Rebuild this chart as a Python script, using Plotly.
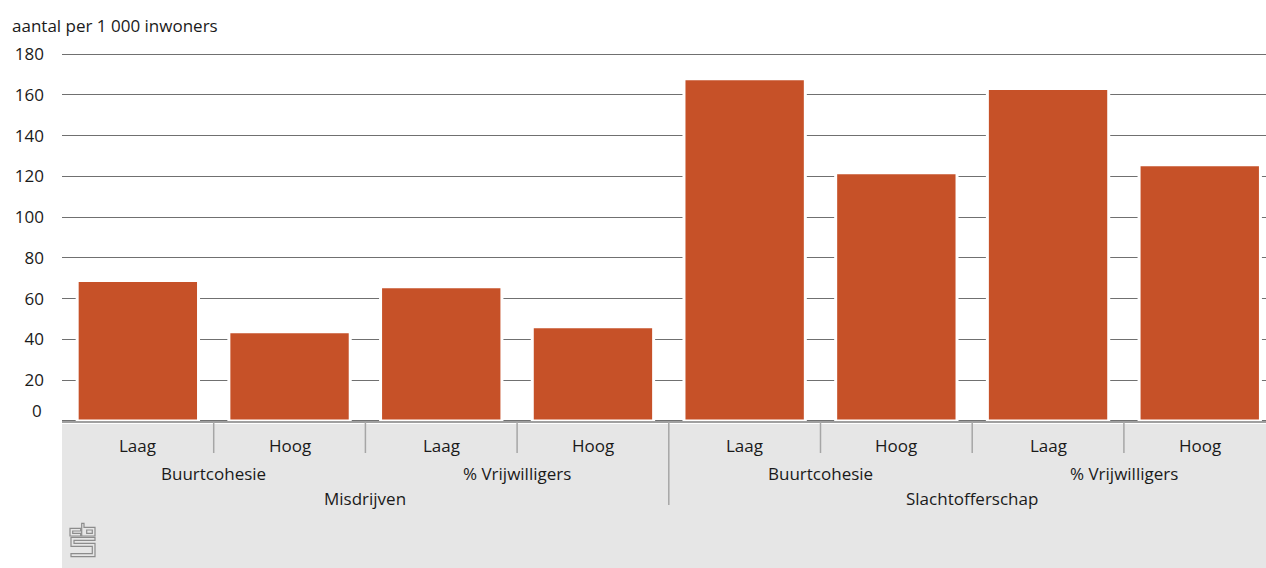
import plotly.graph_objects as go

# ---- data ----
outer_groups = ["Misdrijven", "Slachtofferschap"]
middle_groups = ["Buurtcohesie", "% Vrijwilligers"]
inner_labels = ["Laag", "Hoog"]
values = [68.9, 43.8, 65.8, 46.2, 167.9, 121.8, 163.1, 125.7]
y_ticks = [20, 40, 60, 80, 100, 120, 140, 160, 180]
unit_label = "aantal per 1 000 inwoners"

W, H = 1266, 568
ML, MR, MT, MB = 62, 0, 53, 147
PW, PH = W - ML - MR, H - MT - MB
YMAX = 180.5

def px(x):
    return (x - ML) / PW

def py(y):
    return (H - MB - y) / PH

n = len(outer_groups) * len(middle_groups) * len(inner_labels)

FONT = "Open Sans"
FS = 17
TXT = "#1a1a1a"
GREY_LINE = "#a6a6a6"

fig = go.Figure(go.Bar(
    x=list(range(n)), y=values,
    width=0.8,
    marker=dict(color="#c65128", line=dict(color="white", width=3)),
    hoverinfo="skip",
))

shapes = []
annotations = []

# grey background under the axis
shapes.append(dict(type="rect", xref="paper", yref="paper",
                   x0=0, x1=1, y0=py(424), y1=py(H + 2),
                   fillcolor="#e6e6e6", line=dict(width=0), layer="below"))

# dividers
for k in range(1, n):
    ybot = 505 if k == n // 2 else 453
    shapes.append(dict(type="line", xref="x", yref="paper",
                       x0=k - 0.5, x1=k - 0.5, y0=py(422), y1=py(ybot),
                       line=dict(color=GREY_LINE, width=1.5)))

# inner labels
for idx in range(n):
    annotations.append(dict(x=idx, y=py(445), xref="x", yref="paper",
                            text=inner_labels[idx % 2], showarrow=False,
                            font=dict(family=FONT, size=FS, color=TXT),
                            xanchor="center", yanchor="middle"))
# middle labels
for j in range(len(outer_groups) * len(middle_groups)):
    annotations.append(dict(x=2 * j + 0.5, y=py(473), xref="x", yref="paper",
                            text=middle_groups[j % 2], showarrow=False,
                            font=dict(family=FONT, size=FS, color=TXT),
                            xanchor="center", yanchor="middle"))
# outer labels
for j, o in enumerate(outer_groups):
    annotations.append(dict(x=4 * j + 1.5, y=py(498), xref="x", yref="paper",
                            text=o, showarrow=False,
                            font=dict(family=FONT, size=FS, color=TXT),
                            xanchor="center", yanchor="middle"))

# zero label
annotations.append(dict(x=px(44), y=py(410), xref="paper", yref="paper",
                        text="0", showarrow=False,
                        font=dict(family=FONT, size=FS, color=TXT),
                        xanchor="right", yanchor="middle"))
# unit label
annotations.append(dict(x=px(10), y=py(26), xref="paper", yref="paper",
                        text=unit_label, showarrow=False,
                        font=dict(family=FONT, size=FS, color=TXT),
                        xanchor="left", yanchor="middle"))

# CBS logo (outline paths)
def path(points):
    return "M " + " L ".join(f"{px(x)},{py(y)}" for x, y in points) + " Z"

logo_parts = [
    [(80.7, 528.3), (70, 528.3), (70, 536), (80.7, 536), (80.7, 533.3), (72.7, 533.3), (72.7, 531), (80.7, 531)],
    [(81.7, 523.3), (84, 523.3), (84, 527.3), (95, 527.3), (95, 536), (81.7, 536)],
    [(86.7, 530), (92.3, 530), (92.3, 533.3), (86.7, 533.3)],
    [(71, 537.3), (95, 537.3), (95, 540.3), (74, 540.3), (74, 543.3), (95, 543.3), (95, 556.7),
     (71, 556.7), (71, 553.7), (92.3, 553.7), (92.3, 546.3), (71, 546.3)],
]
for pts in logo_parts:
    shapes.append(dict(type="path", xref="paper", yref="paper", path=path(pts),
                       line=dict(color="#8c8c8c", width=1.2), fillcolor="rgba(0,0,0,0)"))

fig.update_layout(
    width=W, height=H,
    margin=dict(l=ML, r=MR, t=MT, b=MB, pad=0),
    plot_bgcolor="white", paper_bgcolor="white",
    showlegend=False,
    shapes=shapes, annotations=annotations,
    xaxis=dict(range=[-0.5, PW / 151.7 - 0.5], showticklabels=False, showgrid=False,
               zeroline=False, showline=True, linecolor="#a0a0a0", linewidth=2,
               ticks="", fixedrange=True),
    yaxis=dict(range=[0, YMAX], tickvals=y_ticks, ticktext=[str(v) for v in y_ticks],
               showgrid=True, gridcolor="#707070", gridwidth=1.3,
               zeroline=True, zerolinecolor="#707070", zerolinewidth=3,
               showline=False, ticks="", ticklabelstandoff=17,
               tickfont=dict(family=FONT, size=FS, color=TXT), fixedrange=True),
    font=dict(family=FONT, color=TXT),
)

fig.write_html("out.html", config={"displayModeBar": False},
               post_script="document.body.style.margin='0';document.body.style.overflow='hidden';")
